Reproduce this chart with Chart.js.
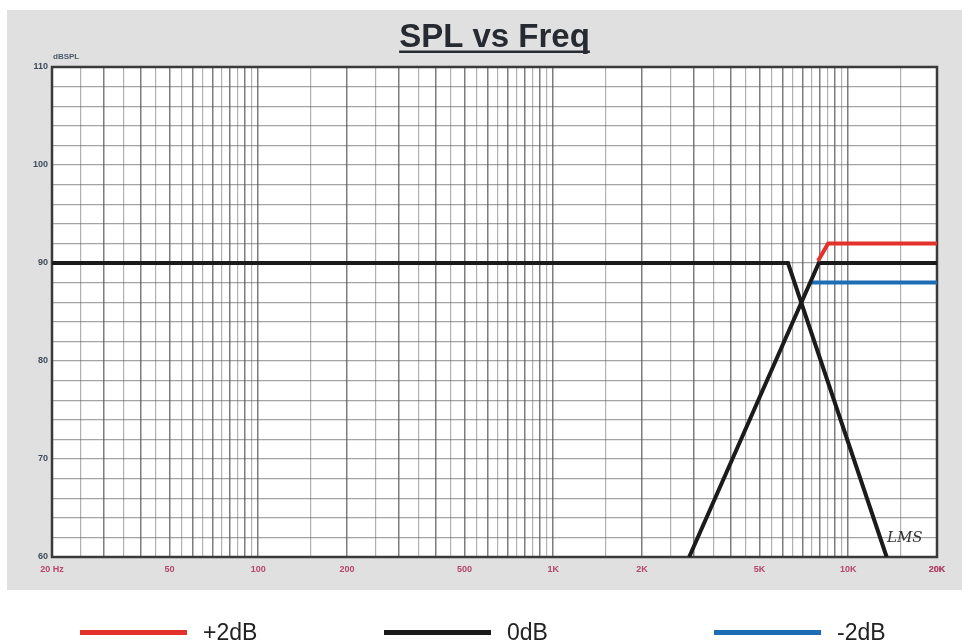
<!DOCTYPE html>
<html>
<head>
<meta charset="utf-8">
<title>SPL vs Freq</title>
<script src="https://cdn.jsdelivr.net/npm/chart.js@4.4.0/dist/chart.umd.min.js"></script>
<style>
html, body { margin: 0; padding: 0; background: #fff; }
#wrap { position: relative; width: 969px; height: 641px; overflow: hidden; }
#legend { position: absolute; left: 0; top: 620px; width: 969px; height: 24px; }
.item { position: absolute; top: 0; height: 24px; display: flex; align-items: center; }
.swatch { width: 107px; height: 5px; margin-right: 16px; }
.label { font-family: 'Liberation Sans', Arial, sans-serif; font-size: 23px; color: #222; line-height: 24px; }
</style>
</head>
<body>
<div id="wrap">
  <canvas id="chart" width="969" height="641"></canvas>
  <div id="legend"></div>
</div>
<script>
// tick labels
const tickValues = [20, 50, 100, 200, 500, 1000, 2000, 5000, 10000, 20000];
const tickText = ['20 Hz', '50', '100', '200', '500', '1K', '2K', '5K', '10K', '20K'];

// curves (Hz, dBSPL)
const lowFreq = [20, 6250, 13500];
const lowSpl = [90, 90, 60];
const highFreq = [2890, 7950, 20000];
const highSpl = [60, 90, 90];
const plusFreq = [7900, 8550, 20000];
const plusSpl = [90.2, 92, 92];
const minusFreq = [7450, 20000];
const minusSpl = [88, 88];

// vertical grid: every half step inside each decade
const gridFreqs = [];
[10, 100, 1000, 10000].forEach(d => {
    for (let m = 1; m < 10; m += 0.5) {
        const v = m * d;
        if (v >= 20 && v <= 20000) gridFreqs.push(v);
    }
});
gridFreqs.push(20000);

function toPoints(xs, ys) {
    return xs.map((x, i) => ({ x: x, y: ys[i] }));
}

function isWhole(v) {
    const d = Math.pow(10, Math.floor(Math.log10(v) + 1e-9));
    return Math.abs(v / d - Math.round(v / d)) < 1e-6;
}

const legendItems = [
    { label: '+2dB', color: '#e3322b', left: 80 },
    { label: '0dB', color: '#1b1b1b', left: 384 },
    { label: '-2dB', color: '#1d6db4', left: 714 }
];

const backdrop = {
    id: 'backdrop',
    beforeDraw(chart) {
        const ctx = chart.ctx;
        const a = chart.chartArea;
        ctx.save();
        ctx.fillStyle = '#ffffff';
        ctx.fillRect(0, 0, chart.width, chart.height);
        ctx.fillStyle = '#e0e0e0';
        ctx.fillRect(7, 10, 955, 580);
        ctx.fillStyle = '#ffffff';
        ctx.fillRect(a.left, a.top, a.right - a.left, a.bottom - a.top);
        ctx.restore();
    },
    beforeDatasetsDraw(chart) {
        const ctx = chart.ctx;
        const a = chart.chartArea;
        ctx.save();
        ctx.strokeStyle = '#3a3a3a';
        ctx.lineWidth = 2.5;
        ctx.strokeRect(a.left, a.top, a.right - a.left, a.bottom - a.top);
        ctx.restore();
    },
    afterDraw(chart) {
        const ctx = chart.ctx;
        const a = chart.chartArea;
        ctx.save();
        // title with underline
        ctx.font = 'bold 33px "Liberation Sans", Arial, sans-serif';
        ctx.fillStyle = '#262b31';
        ctx.textAlign = 'center';
        ctx.textBaseline = 'alphabetic';
        const cx = (a.left + a.right) / 2;
        ctx.fillText('SPL vs Freq', cx, 47);
        const w = ctx.measureText('SPL vs Freq').width;
        ctx.fillRect(cx - w / 2, 50.5, w, 2.5);

        // unit label
        ctx.font = 'bold 8px "Liberation Sans", Arial, sans-serif';
        ctx.fillStyle = '#4a5868';
        ctx.textAlign = 'left';
        ctx.textBaseline = 'middle';
        ctx.fillText('dBSPL', a.left + 1, 57);

        // signature
        ctx.font = 'italic 15px "DejaVu Serif", serif';
        ctx.fillStyle = '#333';
        ctx.fillText('LMS', a.right - 50, a.bottom - 19);
        ctx.restore();
    }
};

const chart = new Chart(document.getElementById('chart'), {
    type: 'line',
    data: {
        datasets: [
            { label: '+2dB', data: toPoints(plusFreq, plusSpl), borderColor: '#e3322b' },
            { label: '0dB', data: toPoints(highFreq, highSpl), borderColor: '#1b1b1b' },
            { label: '0dB low', data: toPoints(lowFreq, lowSpl), borderColor: '#1b1b1b' },
            { label: '-2dB', data: toPoints(minusFreq, minusSpl), borderColor: '#1d6db4' }
        ]
    },
    options: {
        responsive: false,
        animation: false,
        layout: { padding: { left: 0, top: 67, right: 32, bottom: 0 } },
        elements: {
            point: { radius: 0 },
            line: { borderWidth: 4, tension: 0, fill: false, borderJoinStyle: 'miter' }
        },
        plugins: {
            legend: { display: false },
            tooltip: { enabled: false }
        },
        scales: {
            x: {
                type: 'logarithmic',
                min: 20,
                max: 20000,
                afterBuildTicks: scale => {
                    scale.ticks = gridFreqs.map(v => ({ value: v }));
                },
                afterFit: scale => { scale.height = 84; },
                border: { display: false },
                grid: {
                    drawTicks: false,
                    lineWidth: ctx => (ctx.tick && isWhole(ctx.tick.value) ? 1.5 : 1.2),
                    color: ctx => (ctx.tick && isWhole(ctx.tick.value) ? 'rgba(70,70,70,0.7)' : 'rgba(100,100,100,0.5)')
                },
                ticks: {
                    autoSkip: false,
                    maxRotation: 0,
                    padding: 7,
                    color: '#b5476a',
                    font: { family: '"Liberation Sans", Arial, sans-serif', size: 9, weight: 'bold' },
                    callback: value => {
                        const i = tickValues.indexOf(value);
                        return i >= 0 ? tickText[i] : '';
                    }
                }
            },
            y: {
                type: 'linear',
                min: 60,
                max: 110,
                afterFit: scale => { scale.width = 52; },
                border: { display: false },
                grid: {
                    drawTicks: false,
                    lineWidth: 1.2,
                    color: 'rgba(90,90,90,0.55)'
                },
                ticks: {
                    stepSize: 2,
                    autoSkip: false,
                    padding: 4,
                    color: '#3d4b5b',
                    font: { family: '"Liberation Sans", Arial, sans-serif', size: 9, weight: 'bold' },
                    callback: v => (v % 10 === 0 ? v : '')
                }
            }
        }
    },
    plugins: [backdrop]
});

// legend below the panel
const legendEl = document.getElementById('legend');
legendItems.forEach(it => {
    const div = document.createElement('div');
    div.className = 'item';
    div.style.left = it.left + 'px';
    const sw = document.createElement('div');
    sw.className = 'swatch';
    sw.style.background = it.color;
    const lb = document.createElement('span');
    lb.className = 'label';
    lb.textContent = it.label;
    div.appendChild(sw);
    div.appendChild(lb);
    legendEl.appendChild(div);
});
</script>
</body>
</html>
